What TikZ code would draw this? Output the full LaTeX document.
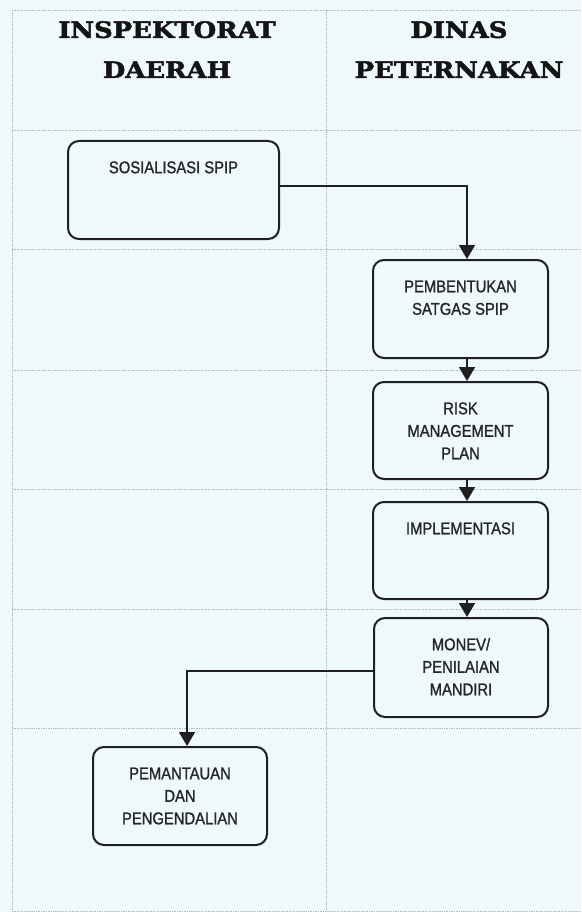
\documentclass[tikz,border=0pt]{standalone}
\usepackage{fontspec}
\setmainfont{Liberation Sans}[FakeStretch=0.87,FakeBold=1.2]
\newfontfamily\headfont{DejaVu Serif Bold}[FakeStretch=1.15,FakeBold=2.2]
\usetikzlibrary{arrows.meta}
\definecolor{bg}{HTML}{EFF9FC}
\definecolor{gridc}{HTML}{AEB8C0}
\definecolor{txt}{HTML}{262626}
\newcommand\bt[3]{\parbox[c][#2][t]{#1}{\centering\vspace*{16.5pt}\strut #3\strut}}
\begin{document}
\begin{tikzpicture}[x=1pt,y=-1pt,
  gridline/.style={gridc,line width=0.7pt,densely dotted},
  head/.style={font=\headfont\fontsize{22.5}{40}\selectfont,align=center,inner sep=0pt,anchor=north,text=black!92},
  procbox/.style={draw=black!88,line width=2pt,rounded corners=11pt,fill=bg,inner sep=0pt,
     font=\fontsize{17}{22.5}\selectfont,text=txt},
  arr/.style={black!88,line width=1.7pt,-{Triangle[width=16pt,length=14pt]}}]
\useasboundingbox (0,0) rectangle (581,912);
\fill[bg] (0,0) rectangle (581,912);
% grid
\foreach \yy in {10,130,249,370,489,609,728,911}
  \draw[gridline] (12,\yy) -- (581,\yy);
\draw[gridline] (12,10) -- (12,911);
\draw[gridline] (326,10) -- (326,911);
% headers
\node[head] (h1) at (167,21) {INSPEKTORAT\\DAERAH};
\node[head] (h2) at (459,21) {DINAS\\PETERNAKAN};
% boxes
\node[procbox] (sos) at (173.5,190) {\bt{211pt}{98pt}{SOSIALISASI SPIP}};
\node[procbox] (pb) at (460.5,309) {\bt{175pt}{98pt}{PEMBENTUKAN\\SATGAS SPIP}};
\node[procbox] (risk) at (460.5,430.5) {\bt{175pt}{97pt}{RISK\\MANAGEMENT\\PLAN}};
\node[procbox] (impl) at (460.5,550.5) {\bt{175pt}{97pt}{IMPLEMENTASI}};
\node[procbox] (mon) at (461,667.5) {\bt{174pt}{99pt}{MONEV/\\PENILAIAN\\MANDIRI}};
\node[procbox] (pem) at (180,796) {\bt{174pt}{98pt}{PEMANTAUAN\\DAN\\PENGENDALIAN}};
% connectors
\coordinate (ax) at (467,0);
\coordinate (bx) at (187,0);
\draw[arr] ([yshift=4pt]sos.east) -| (pb.north -| ax);
\draw[arr] (pb.south -| ax) -- (risk.north -| ax);
\draw[arr] (risk.south -| ax) -- (impl.north -| ax);
\draw[arr] (impl.south -| ax) -- (mon.north -| ax);
\draw[arr] ([yshift=-3.5pt]mon.west) -| (pem.north -| bx);
\end{tikzpicture}
\end{document}
